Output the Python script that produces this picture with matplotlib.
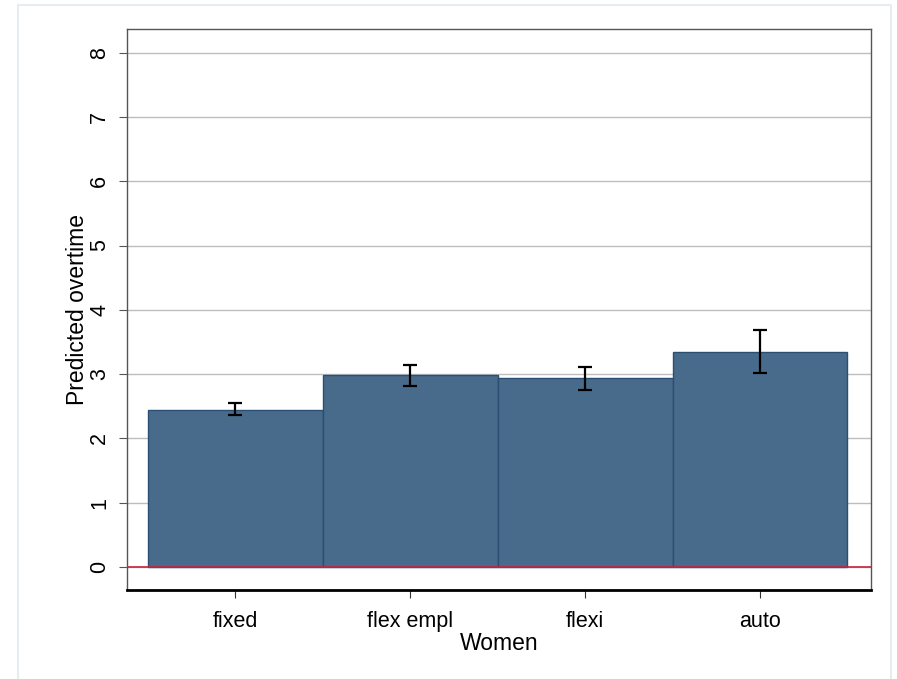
import matplotlib.pyplot as plt
from matplotlib.lines import Line2D

plt.rcParams['font.family'] = ['Liberation Sans', 'DejaVu Sans']

categories = ["fixed", "flex empl", "flexi", "auto"]
predicted = [2.44, 2.99, 2.94, 3.35]
ci_low = [2.36, 2.82, 2.75, 3.02]
ci_high = [2.55, 3.14, 3.11, 3.69]

W, H = 897, 679
fig = plt.figure(figsize=(W / 100, H / 100), dpi=100)
fig.patch.set_facecolor("white")

# faint frame around the graph region (left, top, right only)
fx0, fx1, fy = 18 / W, 891 / W, 1 - 5 / H
fig.add_artist(Line2D([fx0, fx0, fx1, fx1], [0, fy, fy, 0],
                      transform=fig.transFigure, color="#e6edf2",
                      linewidth=1.5))

ax = fig.add_axes([127 / W, 1 - 590 / H, (871 - 127) / W, (590 - 29) / H])

x = list(range(len(categories)))
ax.bar(x, predicted, width=1.0, color="#486b8b", edgecolor="#2a4f73",
       linewidth=1.0, zorder=2)
yerr = [[p - lo for p, lo in zip(predicted, ci_low)],
        [hi - p for p, hi in zip(predicted, ci_high)]]
ax.errorbar(x, predicted, yerr=yerr, fmt="none", ecolor="black",
            elinewidth=1.6, capsize=5, capthick=1.6, zorder=3)

ax.axhline(0, color="#c8243f", linewidth=1.2, zorder=4)

ax.set_xlim(-0.62, 3.635)
ax.set_ylim(-0.36, 8.37)
ax.set_yticks(range(0, 9))
ax.yaxis.grid(True, color="#bdbdbd", linewidth=1.0, zorder=0)
ax.set_axisbelow(True)

ax.set_xticks(x)
ax.set_xticklabels(categories, fontsize=15.5)
ax.tick_params(axis="y", labelsize=15.5, labelrotation=90, length=6,
               color="#555555", pad=6)
ax.tick_params(axis="x", length=6, color="#333333", pad=9)
for lab in ax.get_yticklabels():
    lab.set_verticalalignment("center")

ax.set_ylabel("Predicted overtime", fontsize=16.5, labelpad=0)
ax.set_xlabel("Women", fontsize=16.5, labelpad=0)

for side in ["top", "right", "left"]:
    ax.spines[side].set_color("#555555")
    ax.spines[side].set_linewidth(1.0)
ax.spines["bottom"].set_color("black")
ax.spines["bottom"].set_linewidth(2.0)

fig.savefig("out.png", dpi=100)
